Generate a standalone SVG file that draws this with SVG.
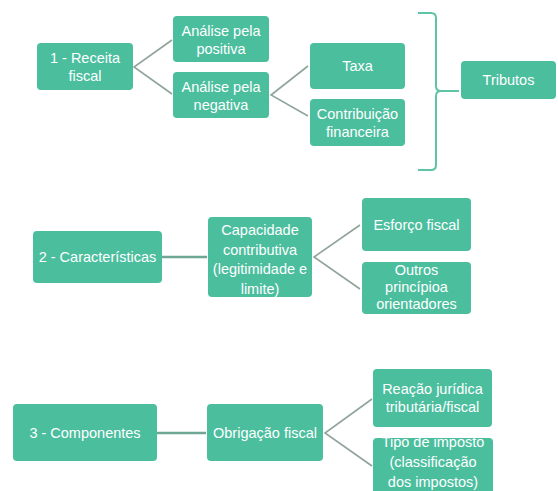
<svg xmlns="http://www.w3.org/2000/svg" width="558" height="491" viewBox="0 0 558 491">
  <style>
    .box { fill: #4bbe9e; }
    .lbl { fill: #ffffff; font-family: "Liberation Sans", Arial, sans-serif; font-size: 14.5px; text-anchor: middle; }
    .fork { fill: none; stroke: #8fa49a; stroke-width: 1.6; }
    .link { fill: none; stroke: #6fa797; stroke-width: 2.4; }
    .brace { fill: none; stroke: #5ec4a6; stroke-width: 2; }
  </style>
  <rect width="558" height="491" fill="#ffffff"/>

  <g id="connectors">
    <polyline class="fork" points="172,40 134,67 172,94"/>
    <polyline class="fork" points="308,66 271,95 308,116"/>
    <path class="brace" d="M418,13 H431 Q436,13 436,18 V86 Q436,91 441,91 H459 M441,91 Q436,91 436,96 V165 Q436,170 431,170 H418"/>
    <line class="link" x1="162" y1="257" x2="207" y2="257"/>
    <polyline class="fork" points="360,225 314,257 360,289"/>
    <line class="link" x1="157" y1="433" x2="206" y2="433"/>
    <polyline class="fork" points="372,399 325,433 372,466"/>
  </g>

  <g id="receita-fiscal">
    <rect class="box" x="37" y="43" width="96" height="47" rx="4"/>
    <text class="lbl" x="85" y="63">1 - Receita</text>
    <text class="lbl" x="85" y="81">fiscal</text>
  </g>
  <g id="analise-positiva">
    <rect class="box" x="173" y="16" width="96" height="46" rx="4"/>
    <text class="lbl" x="221" y="36">Análise pela</text>
    <text class="lbl" x="221" y="54">positiva</text>
  </g>
  <g id="analise-negativa">
    <rect class="box" x="173" y="72" width="96" height="46" rx="4"/>
    <text class="lbl" x="221" y="92">Análise pela</text>
    <text class="lbl" x="221" y="110">negativa</text>
  </g>
  <g id="taxa">
    <rect class="box" x="310" y="43" width="95" height="46" rx="4"/>
    <text class="lbl" x="357.5" y="71">Taxa</text>
  </g>
  <g id="contribuicao">
    <rect class="box" x="310" y="99" width="95" height="47" rx="4"/>
    <text class="lbl" x="357.5" y="119">Contribuição</text>
    <text class="lbl" x="357.5" y="137">financeira</text>
  </g>
  <g id="tributos">
    <rect class="box" x="461" y="61" width="95" height="38" rx="4"/>
    <text class="lbl" x="508.5" y="85">Tributos</text>
  </g>

  <g id="caracteristicas">
    <rect class="box" x="33" y="231" width="129" height="52" rx="4"/>
    <text class="lbl" x="97.5" y="262">2 - Características</text>
  </g>
  <g id="capacidade">
    <rect class="box" x="208" y="217" width="104" height="80" rx="4"/>
    <text class="lbl" x="260" y="235">Capacidade</text>
    <text class="lbl" x="260" y="254.5">contributiva</text>
    <text class="lbl" x="260" y="274">(legitimidade e</text>
    <text class="lbl" x="260" y="293.5">limite)</text>
  </g>
  <g id="esforco-fiscal">
    <rect class="box" x="362" y="198" width="109" height="53" rx="4"/>
    <text class="lbl" x="416.5" y="230">Esforço fiscal</text>
  </g>
  <g id="outros-principios">
    <rect class="box" x="362" y="262" width="109" height="52" rx="4"/>
    <text class="lbl" x="416.5" y="275">Outros</text>
    <text class="lbl" x="416.5" y="292">princípioa</text>
    <text class="lbl" x="416.5" y="309">orientadores</text>
  </g>

  <g id="componentes">
    <rect class="box" x="13" y="404" width="144" height="57" rx="4"/>
    <text class="lbl" x="85" y="438">3 - Componentes</text>
  </g>
  <g id="obrigacao-fiscal">
    <rect class="box" x="207" y="404" width="116" height="57" rx="4"/>
    <text class="lbl" x="265" y="438">Obrigação fiscal</text>
  </g>
  <g id="reacao-juridica">
    <rect class="box" x="373" y="369" width="119" height="58" rx="4"/>
    <text class="lbl" x="432.5" y="394">Reação jurídica</text>
    <text class="lbl" x="432.5" y="412">tributária/fiscal</text>
  </g>
  <g id="tipo-imposto">
    <rect class="box" x="373" y="438" width="120" height="60" rx="4"/>
    <text class="lbl" x="433" y="447">Tipo de imposto</text>
    <text class="lbl" x="433" y="467">(classificação</text>
    <text class="lbl" x="433" y="487">dos impostos)</text>
  </g>
</svg>
